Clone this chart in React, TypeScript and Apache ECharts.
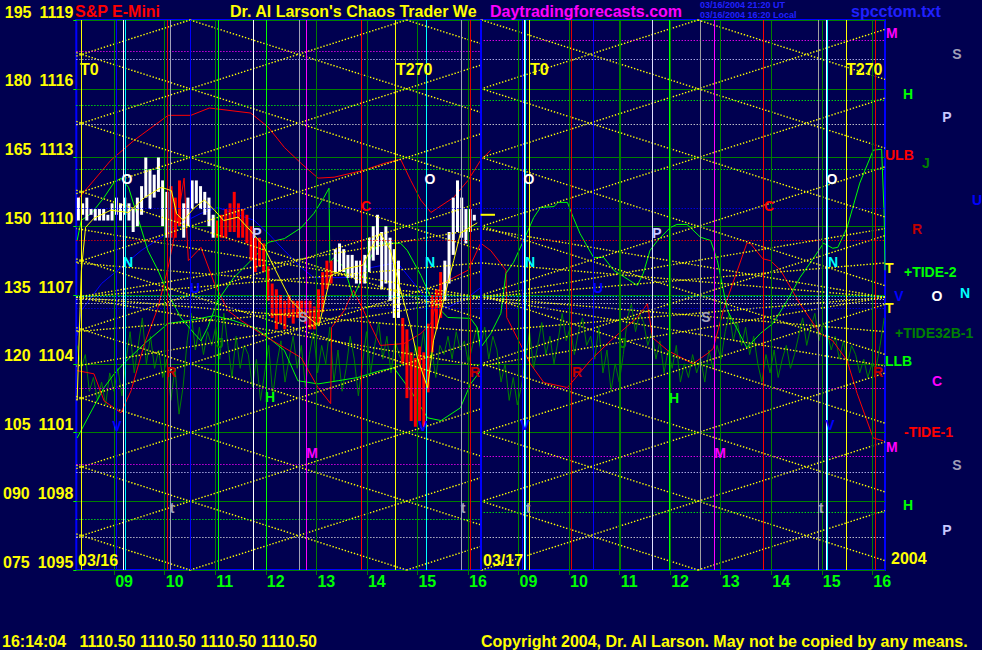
import React, { useEffect, useRef } from "react";
import * as echarts from "echarts";

const FONT = '"Liberation Sans", Arial, Helvetica, sans-serif';
const BG = "#000050";
const YEL = "#ffff00", GRN = "#00ff00", DKG = "#008000", RED = "#ff0000", DKR = "#c00000";
const MAG = "#ff00ff", CYN = "#00ffff", BLU = "#0000ff", WHT = "#ffffff", LAV = "#c8c8ff", GRY = "#a0a0b8";

// x = minutes after 08:00 of 03/16; the 03/17 session is placed 480 minutes further right
const day1Range = [15, 495];
const day2Range = [495, 975];
const hourTicks = [60, 120, 180, 240, 300, 360, 420, 480, 540, 600, 660, 720, 780, 840, 900, 960];

// price bars (5-minute, 03/16)
const barStart = 17.5;
const barStep = 5;
const priceHigh = [1111.25, 1111.0, 1111.25, 1110.75, 1110.75, 1110.75, 1110.75, 1110.5, 1111.0, 1111.25,
  1111.0, 1111.25, 1111.0, 1110.75, 1111.25, 1111.75, 1113.0, 1112.5, 1112.25, 1113.0,
  1112.0, 1111.5, 1111.75, 1111.25, 1112.0, 1111.0, 1111.25, 1112.0, 1112.0, 1111.75,
  1111.5, 1111.25, 1110.5, 1110.25, 1110.5, 1110.75, 1111.0, 1111.5, 1111.0, 1110.75,
  1110.5, 1110.0, 1109.5, 1109.5, 1109.25, 1108.25, 1107.5, 1107.25, 1107.0, 1106.75,
  1107.0, 1106.75, 1106.75, 1106.75, 1106.75, 1106.75, 1106.5, 1107.25, 1108.0, 1108.5,
  1108.5, 1109.0, 1109.25, 1109.0, 1108.75, 1108.75, 1108.5, 1108.5, 1108.75, 1109.5,
  1110.0, 1110.5, 1109.75, 1110.0, 1109.5, 1109.0, 1108.5, 1106.0, 1105.5, 1104.5,
  1104.25, 1104.75, 1104.5, 1105.75, 1107.0, 1107.25, 1108.0, 1108.5, 1109.75, 1111.25,
  1112.0, 1111.25, 1110.75, 1110.75, 1110.5];
const priceLow = [1110.25, 1110.5, 1110.25, 1110.5, 1110.25, 1110.25, 1110.25, 1110.25, 1110.25, 1110.5,
  1110.25, 1110.5, 1110.25, 1109.75, 1110.0, 1110.5, 1111.25, 1110.75, 1111.25, 1111.5,
  1110.0, 1109.5, 1109.5, 1109.5, 1110.0, 1109.5, 1110.0, 1110.75, 1111.0, 1110.75,
  1110.5, 1110.0, 1109.5, 1109.5, 1109.5, 1109.5, 1109.75, 1109.75, 1109.5, 1109.5,
  1109.25, 1108.5, 1108.0, 1108.25, 1108.0, 1106.75, 1106.0, 1105.5, 1105.75, 1105.5,
  1106.0, 1105.75, 1106.0, 1106.0, 1105.75, 1105.5, 1105.5, 1105.75, 1106.25, 1107.25,
  1107.5, 1108.0, 1108.0, 1108.0, 1107.75, 1107.75, 1107.5, 1107.5, 1107.5, 1108.0,
  1108.5, 1108.75, 1107.25, 1107.5, 1106.75, 1106.0, 1106.0, 1104.0, 1102.5, 1101.5,
  1101.25, 1101.5, 1101.25, 1102.75, 1104.5, 1105.5, 1106.0, 1106.75, 1107.5, 1108.75,
  1109.75, 1109.5, 1109.25, 1109.75, 1110.25];
// runs of bar colours: 1 = white, 0 = red
const priceColorRuns = [[22, 1], [3, 0], [8, 1], [28, 0], [16, 1], [10, 0], [8, 1]];
const lastPrice = 1110.5;
const lastPriceSpan = [495, 512];

// smoothed price (yellow), price scale
const yellowLine = [[16, 1102.4], [21, 1108.05], [26, 1109.95], [36, 1110.35], [56, 1110.7], [77, 1110.6],
  [96, 1111.25], [116, 1111.7], [128, 1111.55], [134, 1110.55], [142, 1110.25], [155, 1110.8], [167, 1111.15],
  [179, 1110.7], [190, 1110.25], [207, 1110.4], [222, 1109.8], [237, 1109.15], [252, 1108.05], [270, 1106.75],
  [288, 1106.1], [303, 1105.65], [317, 1107.85], [335, 1108.15], [355, 1108.3], [368, 1109.25], [376, 1109.7],
  [388, 1108.95], [400, 1107.2], [412, 1105.6], [420, 1104.25], [432, 1102.95], [439, 1105.0], [448, 1106.3],
  [456, 1107.5], [463, 1108.5], [471, 1109.7], [491, 1110.15]];

// oscillator-scale series (075..195)
const redUpper = [[16, 155.7], [56, 164.4], [84, 168.8], [124, 174.2], [151, 174.2], [173, 175.8], [222, 174.7],
  [243, 171.6], [262, 167.2], [282, 163.7], [302, 160.5], [321, 160.7], [356, 162.2], [380, 163.7], [400, 164.6],
  [412, 160.0], [424, 155.7], [436, 153.0], [463, 156.3], [480, 160.0], [495, 164.4], [507, 166.6]];
const tideMinus1 = [[16, 118.5], [36, 117.8], [48, 111.9], [68, 109.3], [80, 114.1], [96, 124.4], [112, 132.3],
  [124, 141.0], [134, 150.2], [143, 160.5], [148, 142.5], [163, 145.4], [179, 137.5], [195, 131.6], [211, 129.4],
  [234, 126.6], [262, 123.5], [282, 121.3], [302, 114.8], [317, 111.3], [318, 127.9], [333, 131.6], [344, 136.0],
  [356, 131.6], [376, 124.0], [404, 124.4], [424, 126.6], [436, 128.8], [448, 137.5], [463, 138.8], [480, 140.4],
  [495, 146.3], [507, 144.7], [525, 140.4], [526, 130.1], [554, 120.0], [570, 115.9], [598, 114.8], [625, 120.7],
  [649, 125.0], [681, 130.1], [693, 133.1], [699, 125.7], [717, 122.9], [747, 120.0], [764, 122.2], [771, 123.3],
  [783, 131.6], [811, 146.3], [815, 146.3], [830, 142.9], [839, 142.5], [851, 140.4], [874, 133.1], [898, 126.6],
  [913, 125.0], [930, 120.7], [942, 113.5], [961, 103.8], [973, 103.2]];
const blueLine = [[16, 126.1], [21, 131.6], [45, 137.5], [68, 141.0], [92, 144.7], [116, 147.6], [139, 150.6],
  [163, 152.8], [183, 154.1], [202, 152.8], [226, 151.3], [243, 148.4], [262, 144.7], [282, 141.0], [297, 138.8],
  [337, 138.8], [365, 141.0], [396, 142.1], [420, 136.6], [432, 133.8], [456, 132.3], [480, 134.5], [495, 136.6]];
const tidePlus2 = [[16, 146.9], [21, 151.3], [33, 152.8], [48, 156.3], [60, 159.6], [68, 160.5], [77, 158.5],
  [88, 151.9], [100, 144.7], [112, 140.4], [124, 135.3], [139, 130.1], [155, 126.6], [163, 125.0], [171, 127.9],
  [183, 133.8], [202, 138.8], [226, 143.2], [243, 146.5], [262, 147.3], [282, 149.7], [297, 152.8], [309, 156.3],
  [315, 158.3], [316, 142.1], [321, 143.2], [333, 141.0], [344, 134.5], [353, 138.2], [361, 141.9], [373, 146.3],
  [400, 146.3], [408, 144.7], [424, 139.3], [436, 134.5], [448, 131.6], [456, 130.1], [483, 129.9], [491, 127.9],
  [495, 123.5], [507, 126.6], [519, 131.0], [525, 139.7], [534, 142.1], [546, 146.9], [558, 151.9], [566, 154.1],
  [582, 154.3], [587, 155.2], [598, 155.2], [605, 151.9], [613, 148.4], [629, 143.2], [641, 143.2], [653, 140.4],
  [681, 137.1], [688, 139.7], [696, 144.7], [705, 146.9], [720, 149.7], [728, 150.4], [740, 150.4], [756, 147.6],
  [768, 146.9], [776, 142.5], [788, 131.6], [811, 123.5], [827, 126.6], [842, 128.8], [859, 133.8], [874, 138.8],
  [890, 143.0], [902, 146.3], [913, 145.2], [919, 145.4], [930, 149.7], [945, 159.4], [961, 166.6], [971, 166.8],
  [974, 152.4], [975, 140.4]];
const llbLine = [[16, 103.8], [33, 109.7], [48, 114.8], [60, 117.8], [72, 120.2], [96, 124.4], [124, 128.8],
  [148, 129.4], [179, 130.5], [202, 129.4], [226, 127.9], [243, 125.7], [262, 122.9], [278, 116.3], [302, 115.6],
  [326, 116.3], [349, 117.0], [376, 118.5], [392, 119.1], [412, 114.1], [432, 108.2], [448, 107.6], [471, 110.4],
  [483, 115.6], [495, 118.5]];
const tide32Day1 = [124, 119, 122, 114, 117, 112, 116, 111, 118, 114, 119, 113,
  121, 127, 118, 124, 130, 120, 126, 119, 123, 117, 121, 112, 119, 109, 115,
  125, 131, 123, 128, 122, 127, 124, 128, 121, 131, 124, 117, 126, 119, 124, 122,
  115, 121, 112, 118, 124, 113, 120, 125, 116, 121, 126, 119, 124, 115, 122, 127, 118, 124, 120, 128,
  116, 123, 114, 119, 126, 121, 113, 120, 127, 118, 124, 129, 121, 126, 118, 125, 122,
  120, 126, 118, 124, 121, 127, 119, 123, 117, 124, 122, 126, 121, 127, 123, 125, 120, 124, 128, 123];
const tide32Day2 = [124, 128, 121, 126, 123, 116, 120, 112, 117, 111, 115,
  121, 127, 119, 124, 129, 122, 126, 120, 125, 131, 125, 128, 122, 127, 130, 124, 126, 121, 128,
  118, 123, 114, 120, 116, 122, 130, 133, 127, 131, 129, 124, 127, 121, 125, 118, 123, 119, 124, 116,
  120, 117, 122, 118, 121, 116, 123, 119, 124, 121, 127, 131, 125, 129, 124, 128, 122, 126,
  120, 116, 122, 118, 123, 117, 121, 124, 119, 122, 126, 130, 124, 128, 131, 125, 129, 127,
  123, 126, 121, 125, 120, 124, 122, 118, 121, 117, 120, 119, 124, 130];

// vertical event lines
const vLineX = [21, 62, 71, 73, 123, 126, 150, 183, 225, 240, 280, 288, 353, 394, 430, 431, 472, 483,
  544, 547, 548, 553, 603, 629, 699, 719, 756, 772, 830, 896, 905, 907, 929, 963];
const vLineColor = [YEL, BLU, WHT, CYN, "#e00000", GRY, BLU, GRN, WHT, GRN, GRY, MAG, RED, YEL, WHT, CYN, GRY, "#e00000",
  BLU, WHT, CYN, YEL, "#e00000", BLU, "#e0e0ff", GRN, "#a0a0a0", MAG, RED, "#a0a0a0", WHT, CYN, YEL, "#e00000"];

// horizontal dotted levels (0 = both sessions, 1 = 03/16, 2 = 03/17)
const hLevelPrice = [1117.65, 1118.1, 1117.3, 1115.3, 1115.5, 1114.45, 1112.5, 1110.8, 1109.4, 1106.95, 1106.8,
  1106.65, 1106.4, 1102.95, 1099.6, 1099.95, 1099.25, 1097.2, 1097.5, 1096.45];
const hLevelDay = [1, 2, 0, 1, 2, 0, 0, 0, 0, 0, 0, 0, 0, 0, 1, 2, 0, 1, 2, 0];
const hLevelColor = [MAG, MAG, LAV, GRN, GRN, "#e0e0e0", GRN, BLU, RED, CYN, "#e0e0e0", "#e0e0e0", BLU, MAG,
  MAG, MAG, LAV, GRN, GRN, "#e0e0e0"];

// yellow square-of-time lattice and fans
const latticeCenters = [150, 753];
const latticePeriod = 257;
const latticeStep = 3;
const fanCenter = 1106.9;
const fanOffsets = [-3, -1.5, 1.5, 3];

function latticeSegments(x0: number, x1: number, c: number) {
  const s = latticeStep / latticePeriod;
  const segs: number[][][] = [];
  for (let k = -12; k <= 12; k++) {
    const a = 1119 - latticeStep * k;
    for (const sg of [1, -1]) {
      const mA = c + (1095 - a) / (sg * s);
      const mB = c + (1119 - a) / (sg * s);
      const lo = Math.max(x0, Math.min(mA, mB));
      const hi = Math.min(x1, Math.max(mA, mB));
      if (hi - lo > 0.5) segs.push([[lo, a + sg * s * (lo - c)], [hi, a + sg * s * (hi - c)]]);
    }
  }
  return segs;
}

const ML_BASE = {
  symbol: ["none", "none"],
  silent: true,
  animation: false,
  label: { show: false },
  emphasis: { disabled: true },
  precision: 6,
};

function hourLabel(v: number) {
  const h = v <= 495 ? v / 60 + 8 : (v - 480) / 60 + 8;
  return String(Math.round(h)).padStart(2, "0");
}

function txt(text: string, x: number, y: number, color: string, size = 14, align = "center") {
  return {
    type: "text",
    x,
    y,
    silent: true,
    z: 100,
    style: {
      text,
      fill: color,
      font: `bold ${size}px ${FONT}`,
      textAlign: align,
      textVerticalAlign: "middle",
      align,
      verticalAlign: "middle",
    },
  };
}

export default function App() {
  const ref = useRef<HTMLDivElement>(null);

  useEffect(() => {
    if (!ref.current) return;
    const chart = echarts.init(ref.current, undefined, { renderer: "svg" });

    const dirs: number[] = [];
    priceColorRuns.forEach(([n, d]) => {
      for (let i = 0; i < n; i++) dirs.push(d);
    });
    const bars = priceHigh.map((h, i) => [barStart + barStep * i, priceLow[i], h, dirs[i]]);

    const yDot = { color: YEL, width: 1.4, type: [1.4, 1.8] };
    const latticeData: any[] = [];
    [day1Range, day2Range].forEach((r, di) => {
      latticeSegments(r[0], r[1], latticeCenters[di]).forEach((sg) => {
        latticeData.push([{ coord: sg[0], lineStyle: yDot }, { coord: sg[1] }]);
      });
      fanOffsets.forEach((d) => {
        latticeData.push([{ coord: [r[0], fanCenter], lineStyle: yDot }, { coord: [r[1], fanCenter + d] }]);
        latticeData.push([{ coord: [r[1], fanCenter], lineStyle: yDot }, { coord: [r[0], fanCenter + d] }]);
      });
    });

    const hData: any[] = [];
    hLevelPrice.forEach((p, i) => {
      const ranges = hLevelDay[i] === 0 ? [day1Range, day2Range] : [hLevelDay[i] === 1 ? day1Range : day2Range];
      ranges.forEach((r) => {
        hData.push([{ coord: [r[0], p], lineStyle: { color: hLevelColor[i], width: 1.2, type: [1.2, 1.8] } }, { coord: [r[1], p] }]);
      });
    });

    const vData: any[] = [];
    hourTicks.forEach((h) => vData.push({ xAxis: h, lineStyle: { color: DKG, width: h === 660 ? 2 : 1, type: "solid" } }));
    vLineX.forEach((x, i) => vData.push({ xAxis: x, lineStyle: { color: vLineColor[i], width: 1, type: "solid" } }));
    vData.push({ xAxis: 495, lineStyle: { color: BLU, width: 2, type: "solid" } });

    const tide32: number[][] = [];
    const st1 = (day1Range[1] - 16) / (tide32Day1.length - 1);
    tide32Day1.forEach((v, i) => tide32.push([16 + st1 * i, v]));
    const st2 = (974 - day2Range[0]) / (tide32Day2.length - 1);
    tide32Day2.forEach((v, i) => tide32.push([day2Range[0] + st2 * i, v]));

    const lineS = (data: any, color: string, yi: number, z: number, width = 1) => ({
      type: "line",
      data,
      yAxisIndex: yi,
      showSymbol: false,
      symbol: "none",
      silent: true,
      z,
      lineStyle: { color, width },
      emphasis: { disabled: true },
    });

    const labels = [
      // title row
      txt("S&P E-Mini", 75, 11, RED, 16, "left"),
      txt("Dr. Al Larson's Chaos Trader We", 230, 11, YEL, 16, "left"),
      txt("Daytradingforecasts.com", 490, 11, MAG, 16, "left"),
      txt("03/16/2004 21:20 UT", 700, 5, "#2020ff", 9, "left"),
      txt("03/16/2004 16:20 Local", 700, 15, "#2020ff", 9, "left"),
      txt("spcctom.txt", 851, 11, "#2020ff", 16, "left"),
      // bottom rows
      txt("16:14:04   1110.50 1110.50 1110.50 1110.50", 2, 641, YEL, 16, "left"),
      txt("Copyright 2004, Dr. Al Larson. May not be copied by any means.", 481, 641, YEL, 16, "left"),
      txt("03/16", 78, 560, YEL, 16, "left"),
      txt("03/17", 483, 560, YEL, 16, "left"),
      txt("2004", 891, 558, YEL, 16, "left"),
      // in-plot markers, 03/16
      txt("T0", 80, 69, YEL, 16, "left"),
      txt("T270", 396, 69, YEL, 16, "left"),
      txt("O", 127, 179, WHT), txt("O", 430, 179, WHT),
      txt("N", 128, 262, CYN), txt("N", 430, 262, CYN),
      txt("U", 195, 288, BLU), txt("P", 257, 233, LAV), txt("S", 303, 317, GRY),
      txt("C", 366, 206, RED), txt("R", 171, 372, DKR), txt("R", 475, 372, DKR),
      txt("H", 270, 397, GRN), txt("M", 312, 453, MAG), txt("V", 117, 426, BLU), txt("V", 423, 426, BLU),
      txt("t", 172, 508, GRY), txt("t", 463, 508, GRY), txt("J", 220, 343, DKG),
      // in-plot markers, 03/17
      txt("T0", 530, 69, YEL, 16, "left"),
      txt("T270", 846, 69, YEL, 16, "left"),
      txt("O", 529, 179, WHT), txt("O", 832, 179, WHT),
      txt("N", 530, 262, CYN), txt("N", 833, 262, CYN),
      txt("U", 598, 288, BLU), txt("P", 657, 233, LAV), txt("S", 706, 317, GRY),
      txt("C", 769, 206, RED), txt("R", 577, 372, DKR), txt("R", 878, 372, DKR),
      txt("H", 674, 398, GRN), txt("M", 720, 453, MAG), txt("V", 525, 425, BLU), txt("V", 830, 425, BLU),
      txt("t", 528, 508, GRY), txt("t", 821, 508, GRY), txt("J", 623, 343, DKG),
      // right-side legend
      txt("M", 886, 33, MAG, 14, "left"),
      txt("S", 957, 54, GRY),
      txt("H", 908, 94, GRN),
      txt("P", 947, 117, LAV),
      txt("ULB", 885, 155, RED, 14, "left"),
      txt("J", 926, 163, DKG),
      txt("U", 977, 200, BLU),
      txt("R", 917, 229, DKR),
      txt("T", 885, 268, YEL, 14, "left"),
      txt("+TIDE-2", 904, 272, GRN, 14, "left"),
      txt("V", 899, 296, BLU),
      txt("O", 937, 296, WHT),
      txt("N", 965, 293, CYN),
      txt("T", 885, 308, YEL, 14, "left"),
      txt("+TIDE32B-1", 895, 333, DKG, 14, "left"),
      txt("LLB", 885, 361, GRN, 14, "left"),
      txt("C", 937, 381, MAG),
      txt("-TIDE-1", 904, 432, RED, 14, "left"),
      txt("M", 886, 447, MAG, 14, "left"),
      txt("S", 957, 465, GRY),
      txt("H", 908, 505, GRN),
      txt("P", 947, 530, LAV),
    ];

    const option: any = {
      backgroundColor: BG,
      animation: false,
      textStyle: { fontFamily: FONT },
      grid: { left: 75, right: 97, top: 20, bottom: 80, show: true, borderColor: BLU, borderWidth: 2, backgroundColor: "transparent" },
      xAxis: {
        type: "value",
        min: day1Range[0],
        max: day2Range[1],
        axisLine: { show: false },
        splitLine: { show: false },
        axisTick: { show: true, customValues: hourTicks, length: 5, lineStyle: { color: DKG } },
        axisLabel: {
          customValues: hourTicks,
          formatter: hourLabel,
          color: GRN,
          fontSize: 16,
          fontWeight: "bold",
          fontFamily: FONT,
          align: "left",
          padding: [0, 0, 0, 1],
          margin: 3,
        },
      },
      yAxis: [
        {
          type: "value",
          min: 1095,
          max: 1119,
          interval: 3,
          axisLine: { show: false },
          axisTick: { show: true, length: 3, lineStyle: { color: GRN } },
          axisLabel: {
            formatter: (v: number) => `${String(75 + (v - 1095) * 5).padStart(3, "0")}\u2002${v}`,
            color: YEL,
            fontSize: 16,
            fontWeight: "bold",
            fontFamily: FONT,
            verticalAlign: "bottom",
            margin: 3,
          },
          splitLine: { show: true, lineStyle: { color: DKG, width: 1 } },
        },
        { type: "value", min: 75, max: 195, show: false },
      ],
      series: [
        {
          type: "line",
          data: [[15, 1107]],
          symbol: "none",
          silent: true,
          z: 1,
          markLine: { ...ML_BASE, data: latticeData },
        },
        {
          type: "line",
          data: [[15, 1107]],
          symbol: "none",
          silent: true,
          z: 1,
          markLine: { ...ML_BASE, data: hData },
        },
        {
          type: "line",
          data: [[15, 1107]],
          symbol: "none",
          silent: true,
          z: 2,
          markLine: { ...ML_BASE, data: vData },
        },
        lineS(tide32, DKG, 1, 3),
        lineS(llbLine, GRN, 1, 3),
        lineS(blueLine, BLU, 1, 3),
        lineS(redUpper, RED, 1, 3),
        lineS(tideMinus1, RED, 1, 3),
        lineS(tidePlus2, GRN, 1, 3),
        {
          type: "custom",
          data: bars,
          z: 4,
          silent: true,
          encode: { x: 0, y: [1, 2] },
          renderItem: (_p: any, api: any) => {
            const t = api.value(0), lo = api.value(1), hi = api.value(2), d = api.value(3);
            const a = api.coord([t, hi]);
            const b = api.coord([t, lo]);
            return {
              type: "rect",
              shape: { x: a[0] - 1.5, y: a[1], width: 3, height: Math.max(1, b[1] - a[1]) },
              style: { fill: d ? WHT : RED },
            };
          },
        },
        lineS(yellowLine, YEL, 0, 5),
        lineS([[lastPriceSpan[0], lastPrice], [lastPriceSpan[1], lastPrice]], YEL, 0, 5, 2),
      ],
      graphic: labels,
    };

    chart.setOption(option);
    return () => chart.dispose();
  }, []);

  return <div ref={ref} style={{ width: 982, height: 650, position: "absolute", left: 0, top: 0 }} />;
}
